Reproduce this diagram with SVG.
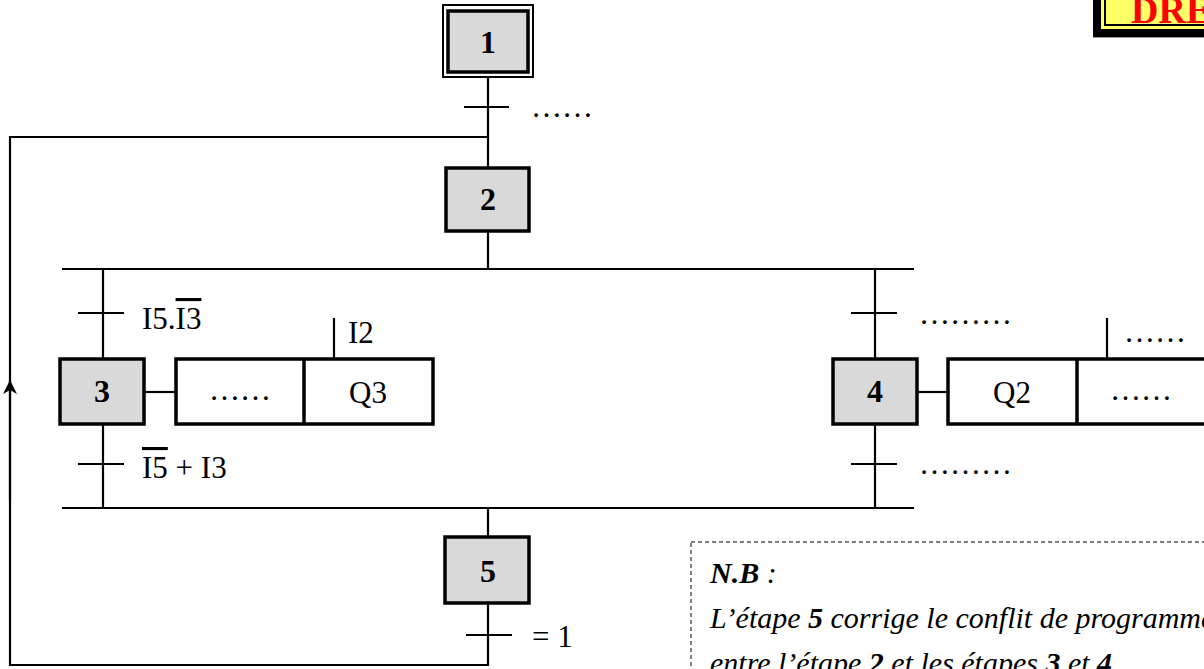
<svg xmlns="http://www.w3.org/2000/svg" width="1204" height="669" viewBox="0 0 1204 669">
  <style>
    .step { fill: #d9d9d9; stroke: #000; stroke-width: 3.5; }
    .act { fill: #fff; stroke: #000; stroke-width: 3.5; }
    .ln { fill: none; stroke: #000; stroke-width: 2.2; }
    .num { font-family: "Liberation Serif", "Times New Roman", serif; font-weight: bold; font-size: 32px; text-anchor: middle; fill: #000; }
    .lbl { font-family: "Liberation Serif", "Times New Roman", serif; font-size: 31px; fill: #000; }
    .mid { text-anchor: middle; }
    .note { font-family: "Liberation Serif", "Times New Roman", serif; font-style: italic; font-size: 30px; fill: #000; }
  </style>
  <defs>
    <marker id="up" viewBox="0 0 16 14" markerWidth="16" markerHeight="14" refX="8" refY="0" orient="0" markerUnits="userSpaceOnUse">
      <path d="M8 0 L15 14 L8 10 L1 14 Z" fill="#000"/>
    </marker>
  </defs>

  <rect width="1204" height="669" fill="#fff"/>

  <!-- header tag, top right -->
  <g id="tag">
    <rect x="1093" y="-10" width="120" height="47" fill="#000"/>
    <rect x="1101" y="-10" width="110" height="39" fill="#ffff66"/>
    <rect x="1105" y="-10" width="110" height="35" fill="none" stroke="#000" stroke-width="2"/>
    <line x1="1093" y1="37.5" x2="1204" y2="37.5" stroke="#999" stroke-width="1"/>
    <text x="1131" y="23" font-family="Liberation Serif, serif" font-weight="bold" font-size="38" fill="#ff0000">DRE</text>
  </g>

  <!-- links, transitions and loop-back -->
  <g id="connectors">
    <!-- 1 -> 2 -->
    <line class="ln" x1="488" y1="77" x2="488" y2="168"/>
    <line class="ln" x1="464" y1="107" x2="509" y2="107"/>
    <!-- 2 -> divergence -->
    <line class="ln" x1="488" y1="231" x2="488" y2="269"/>
    <line class="ln" x1="62" y1="269" x2="914" y2="269"/>
    <!-- left branch -->
    <line class="ln" x1="103" y1="269" x2="103" y2="359"/>
    <line class="ln" x1="78" y1="313" x2="124" y2="313"/>
    <line class="ln" x1="103" y1="424" x2="103" y2="508"/>
    <line class="ln" x1="78" y1="464" x2="124" y2="464"/>
    <line class="ln" x1="144" y1="392" x2="176" y2="392"/>
    <line class="ln" x1="334" y1="318" x2="334" y2="359"/>
    <!-- right branch -->
    <line class="ln" x1="875" y1="269" x2="875" y2="359"/>
    <line class="ln" x1="851" y1="313" x2="897" y2="313"/>
    <line class="ln" x1="875" y1="424" x2="875" y2="508"/>
    <line class="ln" x1="851" y1="464" x2="897" y2="464"/>
    <line class="ln" x1="917" y1="392" x2="948" y2="392"/>
    <line class="ln" x1="1107" y1="318" x2="1107" y2="359"/>
    <!-- convergence -> 5 -->
    <line class="ln" x1="62" y1="508" x2="914" y2="508"/>
    <line class="ln" x1="488" y1="508" x2="488" y2="537"/>
    <!-- 5 -> loop back to 2 -->
    <line class="ln" x1="466" y1="635" x2="512" y2="635"/>
    <polyline class="ln" points="488,603 488,665 10,665 10,137 488,137"/>
    <line class="ln" x1="10" y1="500" x2="10" y2="380" marker-end="url(#up)"/>
  </g>

  <!-- transition conditions -->
  <g id="conditions">
    <text x="531" y="117" class="lbl">……</text>
    <text x="142" y="329" class="lbl">I5.<tspan text-decoration="overline">I3</tspan></text>
    <text x="142" y="478" class="lbl"><tspan text-decoration="overline">I5</tspan> + I3</text>
    <text x="919" y="324" class="lbl">………</text>
    <text x="919" y="474" class="lbl">………</text>
    <text x="532" y="647" class="lbl">= 1</text>
  </g>

  <g id="step1">
    <rect x="443" y="5" width="90" height="72" fill="#fff" stroke="#000" stroke-width="2"/>
    <rect x="448" y="11" width="80" height="61" class="step"/>
    <text x="488" y="53" class="num">1</text>
  </g>

  <g id="step2">
    <rect x="446" y="168" width="83" height="63" class="step"/>
    <text x="488" y="210" class="num">2</text>
  </g>

  <g id="step3">
    <rect x="60" y="359" width="84" height="65" class="step"/>
    <text x="102" y="402" class="num">3</text>
  </g>

  <g id="actions3">
    <rect x="176" y="359" width="257" height="65" class="act"/>
    <line x1="304" y1="359" x2="304" y2="424" stroke="#000" stroke-width="3.5"/>
    <text x="240" y="400" class="lbl mid">……</text>
    <text x="368" y="403" class="lbl mid">Q3</text>
    <text x="348" y="343" class="lbl">I2</text>
  </g>

  <g id="step4">
    <rect x="833" y="359" width="84" height="65" class="step"/>
    <text x="875" y="402" class="num">4</text>
  </g>

  <g id="actions4">
    <rect x="948" y="359" width="270" height="65" class="act"/>
    <line x1="1077" y1="359" x2="1077" y2="424" stroke="#000" stroke-width="3.5"/>
    <text x="1012" y="403" class="lbl mid">Q2</text>
    <text x="1141" y="400" class="lbl mid">……</text>
    <text x="1124" y="342" class="lbl">……</text>
  </g>

  <g id="step5">
    <rect x="445" y="537" width="84" height="66" class="step"/>
    <text x="488" y="582" class="num">5</text>
  </g>

  <!-- note -->
  <g id="note">
    <rect x="691" y="542" width="560" height="160" fill="none" stroke="#000" stroke-width="1" stroke-dasharray="4,3"/>
    <text x="710" y="583" class="note" font-size="27"><tspan font-weight="bold">N.B</tspan> :</text>
    <text x="710" y="628" class="note">L’étape <tspan font-weight="bold">5</tspan> corrige le conflit de programmation</text>
    <text x="710" y="673" class="note">entre l’étape <tspan font-weight="bold">2</tspan> et les étapes <tspan font-weight="bold">3</tspan> et <tspan font-weight="bold">4</tspan></text>
  </g>
</svg>
